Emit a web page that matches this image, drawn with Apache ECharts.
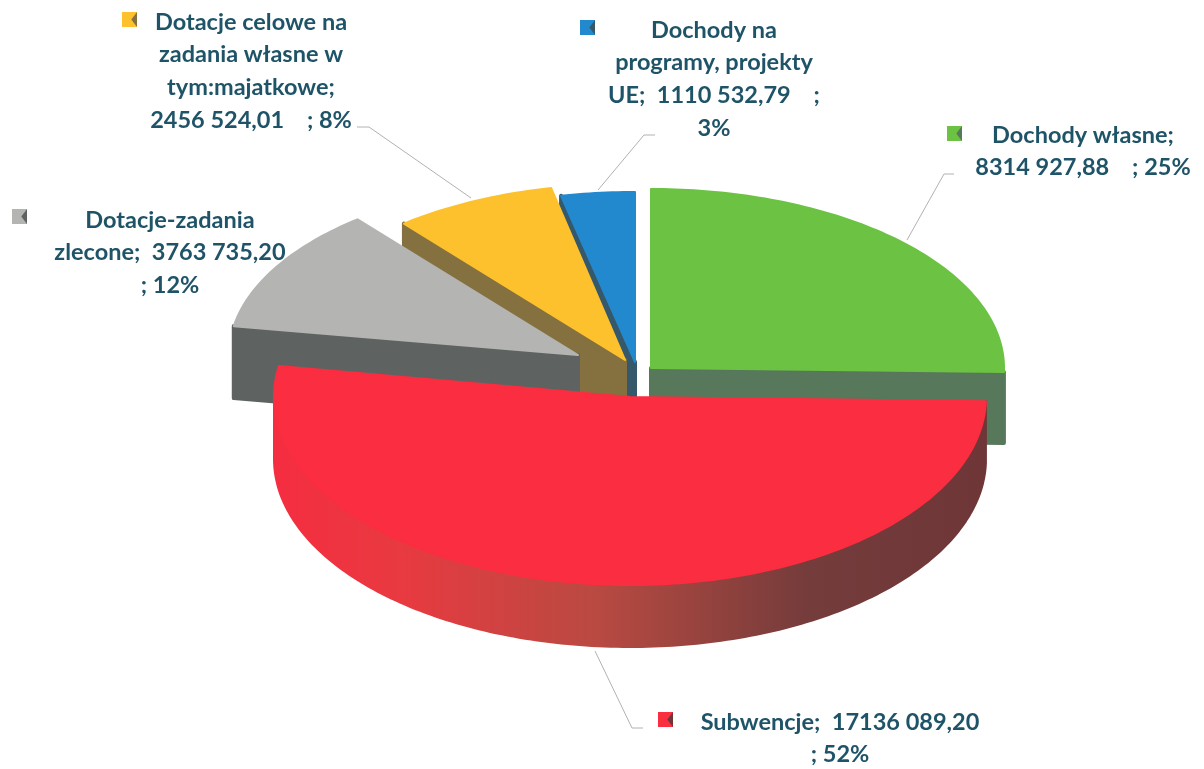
<!DOCTYPE html>
<html lang="pl">
<head>
<meta charset="utf-8">
<style>
  html, body { margin: 0; padding: 0; background: #ffffff; }
  #chart { width: 1204px; height: 769px; }
</style>
<script src="https://cdn.jsdelivr.net/npm/echarts@6/dist/echarts.min.js"></script>
</head>
<body>
<div id="chart"></div>
<script>
// Struktura dochodów: wartości w zł
const categories = ['Dochody własne', 'Subwencje', 'Dotacje-zadania zlecone', 'Dotacje celowe na zadania własne w tym:majatkowe', 'Dochody na programy, projekty UE'];
const values = [8314927.88, 17136089.20, 3763735.20, 2456524.01, 1110532.79];

// Podpisy w kolejności kategorii, podzielone na wiersze
const labelLines = [
  ['Dochody własne;', '8314 927,88    ; 25%'],
  ['Subwencje;  17136 089,20', '; 52%'],
  ['Dotacje-zadania', 'zlecone;  3763 735,20', '; 12%'],
  ['Dotacje celowe na', 'zadania własne w', 'tym:majatkowe;', '2456 524,01    ; 8%'],
  ['Dochody na', 'programy, projekty', 'UE;  1110 532,79    ;', '3%']
];

// Kolory powierzchni i ścian bocznych
const topColors = ['#6cc243', '#fb2d40', '#b4b5b2', '#fdc12e', '#2389cf'];
const sideColors = ['#57785a', null, '#5e6361', '#85713f', '#35596b'];
const redSideStops = [
  { offset: 0, color: '#f52d40' }, { offset: 0.18, color: '#e83a40' },
  { offset: 0.45, color: '#b94a42' }, { offset: 0.75, color: '#743c3b' },
  { offset: 1, color: '#6e3637' }
];

// Układ wycinków: środek, promienie elipsy, wysokość bryły, kolejność rysowania
const sliceCx = [651, 630, 578, 625, 635];
const sliceCy = [368, 397, 355, 360, 362];
const sliceRx = [353, 356, 349, 350, 350];
const sliceRy = [179, 188, 175, 176, 170];
const sliceDepth = [71, 62, 72, 72, 72];
const drawOrder = [4, 3, 2, 0, 1];

// Układ podpisów: środek tekstu, pierwszy wiersz, znacznik, linia odniesienia
const labelCx = [1083, 840, 170, 251, 714];
const labelTop = [135, 722, 220, 22, 30];
const lineStep = 32.7;
const markerX = [947, 658, 12, 122, 580];
const markerY = [126, 712, 209, 12, 20];
const leaderPaths = [
  [[954, 174], [944, 174], [907, 240]],
  [[643, 728], [632, 728], [595, 651]],
  null,
  [[357, 127], [369, 127], [471, 198]],
  [[655, 135], [644, 135], [598, 190]]
];

const total = values.reduce((a, b) => a + b, 0);
const bounds = [];
values.reduce((acc, v) => {
  const next = acc + v / total * 360;
  bounds.push([acc, next]);
  return next;
}, 0);

function rimPoint(i, deg, drop) {
  const a = deg * Math.PI / 180;
  return [sliceCx[i] + sliceRx[i] * Math.sin(a), sliceCy[i] - sliceRy[i] * Math.cos(a) + (drop || 0)];
}

function arcPoints(i, from, to, drop) {
  const pts = [];
  const n = Math.max(2, Math.ceil(Math.abs(to - from)));
  for (let k = 0; k <= n; k++) pts.push(rimPoint(i, from + (to - from) * k / n, drop));
  return pts;
}

function face(points, fill, z2, width) {
  return {
    type: 'polygon',
    z2: z2,
    shape: { points: points },
    style: { fill: fill, stroke: fill, lineWidth: width, lineJoin: 'round' }
  };
}

function renderSlice(params, api) {
  const i = params.dataIndex;
  const z = drawOrder.indexOf(i) * 3 + 1;
  const [start, end] = bounds[i];
  const d = sliceDepth[i];
  const apex = [sliceCx[i], sliceCy[i]];
  const apexLow = [apex[0], apex[1] + d];
  const children = [];
  const side = sideColors[i] || {
    type: 'linear', global: true,
    x: sliceCx[i] - sliceRx[i], y: 0, x2: sliceCx[i] + sliceRx[i], y2: 0,
    colorStops: redSideStops
  };

  // Ściany promieniowe widoczne od strony obserwatora
  if (start > 180 && start < 360) {
    children.push(face([apex, rimPoint(i, start), rimPoint(i, start, d), apexLow], side, z, 4));
  }
  if (end > 0 && end < 180) {
    children.push(face([apex, rimPoint(i, end), rimPoint(i, end, d), apexLow], side, z, 4));
  }
  // Ściana zewnętrzna: tylko przednia połowa elipsy
  const frontFrom = Math.max(start, 90);
  const frontTo = Math.min(end, 270);
  if (frontFrom < frontTo) {
    const upper = arcPoints(i, frontFrom, frontTo, 0);
    const lower = arcPoints(i, frontTo, frontFrom, d);
    children.push(face(upper.concat(lower), side, z, 2));
  }
  // Górna powierzchnia wycinka; wartość wyznacza jej kąt
  const sweep = api.value(0) / total * 360;
  children.push(face([apex].concat(arcPoints(i, start, start + sweep, 0)), topColors[i], z + 1, 2));
  return { type: 'group', children: children };
}

// Podpisy, znaczniki i linie odniesienia nad bryłą
const overlay = [];
categories.forEach((name, i) => {
  labelLines[i].forEach((line, k) => {
    overlay.push({
      type: 'text', z: 50,
      style: {
        x: labelCx[i], y: labelTop[i] + k * lineStep,
        text: line, fill: '#1f5468',
        font: 'bold 23.5px Lato, "Open Sans", sans-serif',
        align: 'center', verticalAlign: 'middle'
      }
    });
  });
  const mx = markerX[i], my = markerY[i], s = 15;
  overlay.push({ type: 'rect', z: 50, shape: { x: mx, y: my, width: s, height: s }, style: { fill: topColors[i] } });
  overlay.push({
    type: 'polygon', z: 51,
    shape: { points: [[mx + s, my], [mx + s * 0.62, my + s / 2], [mx + s, my + s]] },
    style: { fill: sideColors[i] || '#6e3637' }
  });
  if (leaderPaths[i]) {
    overlay.push({
      type: 'polyline', z: 49,
      shape: { points: leaderPaths[i] },
      style: { stroke: '#b0b2b2', lineWidth: 1, fill: null }
    });
  }
});

const chart = echarts.init(document.getElementById('chart'), null, { renderer: 'canvas' });
chart.setOption({
  animation: false,
  backgroundColor: '#ffffff',
  series: [{
    type: 'custom',
    coordinateSystem: 'none',
    renderItem: renderSlice,
    data: values.map((v, i) => ({ name: categories[i], value: [v] }))
  }],
  graphic: { elements: overlay }
});
</script>
</body>
</html>
